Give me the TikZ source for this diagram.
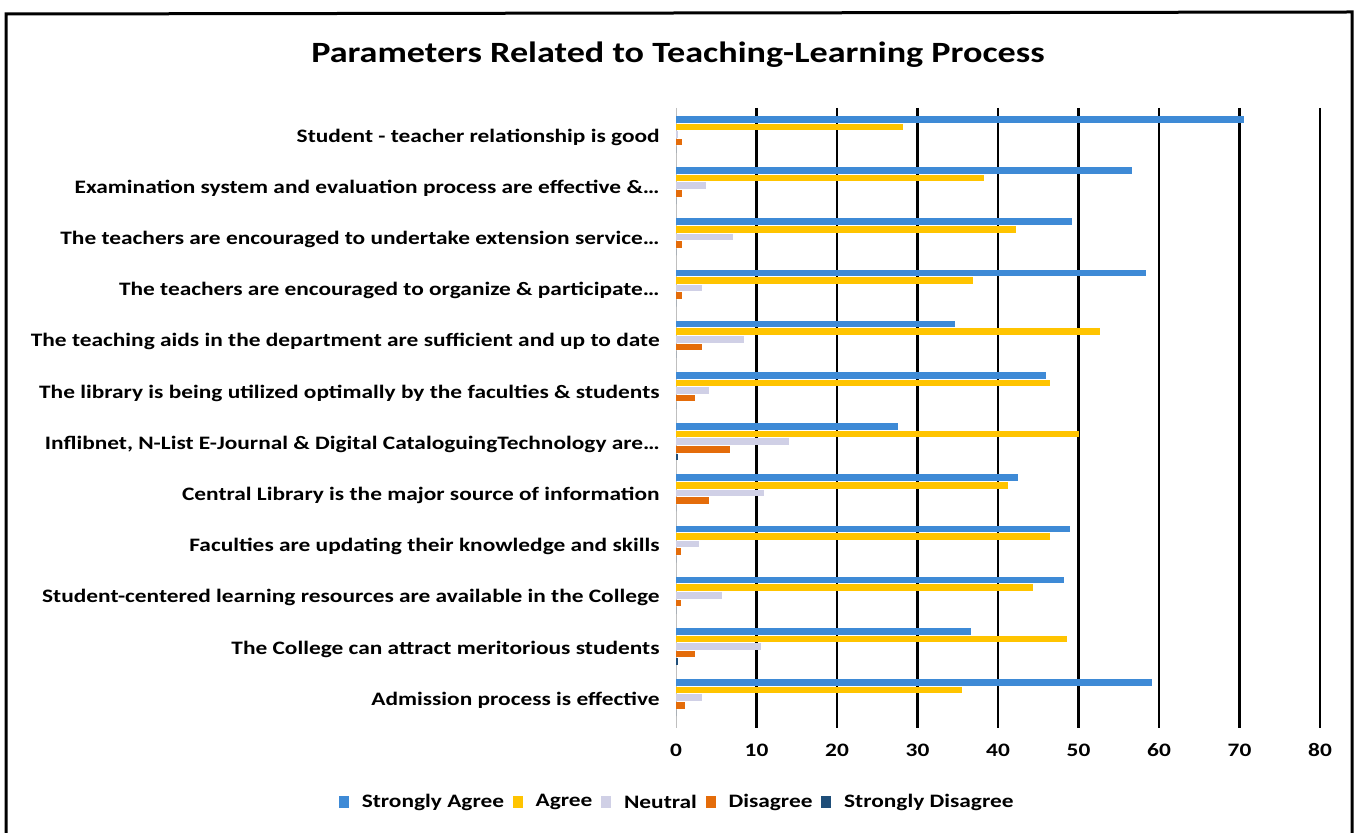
\documentclass[tikz,border=0pt]{standalone}
\usepackage{fontspec}
\setmainfont{Carlito}[FakeStretch=1.23]
\usetikzlibrary{positioning}

\definecolor{sagree}{RGB}{62,138,214}
\definecolor{agree}{RGB}{255,196,0}
\definecolor{neutral}{RGB}{208,208,230}
\definecolor{disagree}{RGB}{228,108,10}
\definecolor{sdisagree}{RGB}{31,78,121}

\begin{document}
\begin{tikzpicture}[
	x=0.5pt,y=-0.5pt,
	catlabel/.style={anchor=east,inner sep=0pt,font=\bfseries\fontsize{9.5}{11}\selectfont},
	ticklabel/.style={inner sep=0pt,font=\bfseries\fontsize{9.5}{11}\selectfont},
	legtext/.style={inner sep=0pt,font=\bfseries\fontsize{9.5}{11}\selectfont},
	legkey/.style={inner sep=0pt,minimum width=5pt,minimum height=6pt},
	gridline/.style={line width=1.1pt}
	]
	\useasboundingbox (0,0) rectangle (1357,833);
	\draw[line width=1.5pt] (6,840) -- (6,14) -- (1352,12) -- (1352,840);
	\node[font=\bfseries\fontsize{14.7}{18}\selectfont] (title) at (678,55)
	{Parameters Related to Teaching-Learning Process};
	% grid and values
	\draw[black!25] (676,108) -- (676,728);
	\foreach \v in {10,20,...,80}
	\draw[gridline] ({676+\v*8.05},108) -- ({676+\v*8.05},728);
	\foreach \v in {0,10,...,80}
	\node[ticklabel] (t\v) at ({676+\v*8.05},750) {\v};
	% bars
	\foreach[count=\i] \sa/\ag/\ne/\di/\sd/\txt in {
		70.5/28.2/0.2/0.7/0/{Student - teacher relationship is good},
		56.7/38.3/3.7/0.7/0/{Examination system and evaluation process are effective \&…},
		49.2/42.2/7.1/0.7/0/{The teachers are encouraged to undertake extension service…},
		58.4/36.9/3.2/0.7/0/{The teachers are encouraged to organize \& participate…},
		34.7/52.7/8.5/3.2/0/{The teaching aids in the department are sufficient and up to date},
		46.0/46.5/4.1/2.4/0/{The library is being utilized optimally by the faculties \& students},
		27.6/50.0/14.0/6.7/0.3/{Inflibnet, N-List E-Journal \& Digital CataloguingTechnology are…},
		42.5/41.2/10.9/4.1/0/{Central Library is the major source of information},
		49.0/46.5/2.8/0.6/0/{Faculties are updating their knowledge and skills},
		48.2/44.3/5.7/0.6/0/{Student-centered learning resources are available in the College},
		36.7/48.6/10.6/2.4/0.3/{The College can attract meritorious students},
		59.1/35.5/3.2/1.1/0/{Admission process is effective}}
	{
		\pgfmathsetmacro\ytop{116+(\i-1)*51.2}
		\fill[sagree] (676,\ytop) rectangle ++({\sa*8.05},6.6);
		\fill[agree] (676,\ytop+7.6) rectangle ++({\ag*8.05},6.6);
		\fill[neutral] (676,\ytop+15.2) rectangle ++({\ne*8.05},6.6);
		\fill[disagree] (676,\ytop+22.8) rectangle ++({\di*8.05},6.6);
		\fill[sdisagree] (676,\ytop+30.4) rectangle ++({\sd*8.05},6.6);
		\node[catlabel] (c\i) at (660,{\ytop+21}) {\txt};
	}
	% legend
	\node[legkey,fill=sagree] (kSA) at (344,802) {};
	\node[legtext,right=6pt of kSA] (lSA) {Strongly Agree};
	\node[legkey,fill=agree,right=4pt of lSA] (kA) {};
	\node[legtext,right=6pt of kA] (lA) {Agree};
	\node[legkey,fill=neutral,right=4pt of lA] (kN) {};
	\node[legtext,right=6pt of kN] (lN) {Neutral};
	\node[legkey,fill=disagree,right=4pt of lN] (kD) {};
	\node[legtext,right=6pt of kD] (lD) {Disagree};
	\node[legkey,fill=sdisagree,right=4pt of lD] (kSD) {};
	\node[legtext,right=6pt of kSD] (lSD) {Strongly Disagree};
\end{tikzpicture}
\end{document}
